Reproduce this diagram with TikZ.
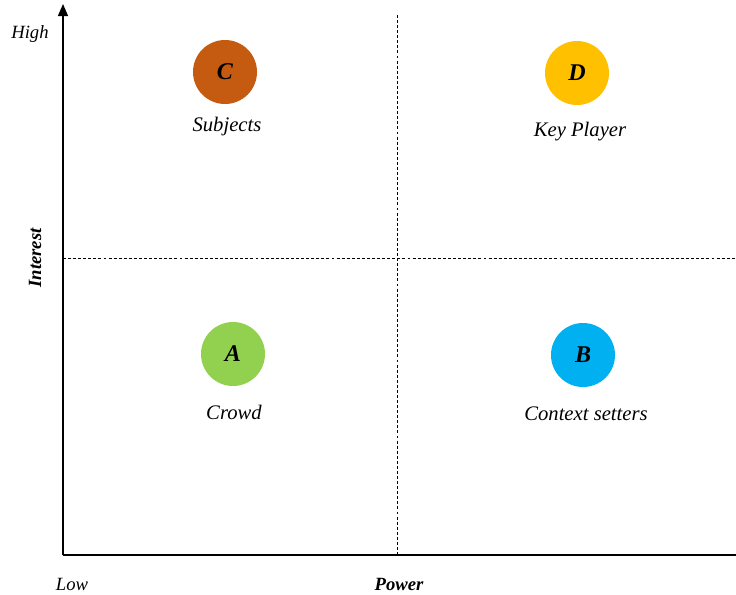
\documentclass[tikz,border=0pt]{standalone}
\usepackage{fontspec}
\setmainfont{Liberation Serif}
\usetikzlibrary{arrows.meta}
\definecolor{cC}{HTML}{C55A11}
\definecolor{cD}{HTML}{FFC000}
\definecolor{cA}{HTML}{92D050}
\definecolor{cB}{HTML}{00B0F0}
\begin{document}
\begin{tikzpicture}[x=0.75pt,y=-0.75pt,
  dot/.style={circle,minimum size=48pt,inner sep=0pt,font=\fontsize{18}{20}\selectfont\bfseries\itshape},
  lbl/.style={font=\fontsize{15.5}{18}\selectfont\itshape},
  axlbl/.style={inner sep=1pt,font=\fontsize{14}{16}\selectfont\itshape},
  axbold/.style={inner sep=1pt,font=\fontsize{14}{16}\selectfont\bfseries\itshape},
  axis/.style={line width=1pt},
  grid/.style={line width=0.6pt,dash pattern=on 2.2pt off 1.6pt}]
\useasboundingbox (0,0) rectangle (736,594);
\coordinate (O) at (63,555);
\coordinate (Ytop) at (63,4);
\coordinate (Xend) at (736,555);
\coordinate (Vt) at (397,15);
\coordinate (Vb) at (397,555);
\coordinate (Hl) at (63,258);
\coordinate (Hr) at (736,258);
\draw[grid] (Vt) -- (Vb);
\draw[grid] (Hl) -- (Hr);
\draw[axis,-{Triangle[length=9pt,width=7.5pt]}] (O) -- (Ytop);
\draw[axis] (O) -- (Xend);
\node[dot,fill=cC] (C) at (225,72) {C};
\node[dot,fill=cD] (D) at (577,73) {D};
\node[dot,fill=cA] (A) at (233,354) {A};
\node[dot,fill=cB] (B) at (583,355) {B};
\node[lbl] (Cl) at (227,127) {Subjects};
\node[lbl] (Dl) at (580,132) {Key Player};
\node[lbl] (Al) at (234,412) {Crowd};
\node[lbl] (Bl) at (586,414) {Context setters};
\node[axlbl] (high) at (30,34) {High};
\node[axlbl] (low) at (72,584) {Low};
\node[axbold] (power) at (399,584) {Power};
\node[axbold,rotate=90] (interest) at (35,258) {Interest};
\end{tikzpicture}
\end{document}
